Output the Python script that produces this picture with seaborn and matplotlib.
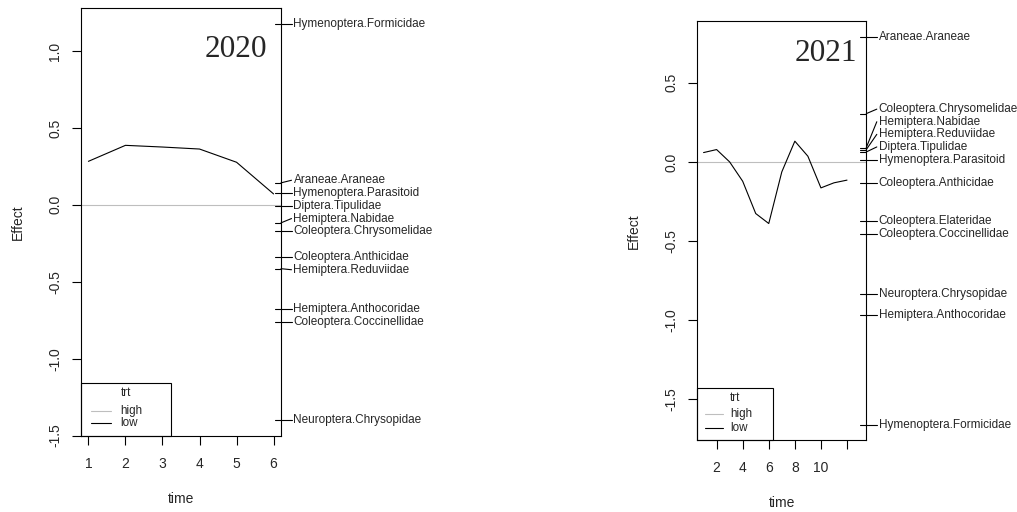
import matplotlib
matplotlib.use("Agg")
import matplotlib.pyplot as plt
import matplotlib.transforms as mtransforms
from matplotlib.patches import Rectangle
import numpy as np
import seaborn as sns

# PRC 2020: low treatment vs high (reference = 0)
time_2020 = [1, 2, 3, 4, 5, 6]
effect_2020 = [0.283, 0.387, 0.376, 0.363, 0.277, 0.071]
species_2020 = ['Hymenoptera.Formicidae', 'Araneae.Araneae', 'Hymenoptera.Parasitoid',
                'Diptera.Tipulidae', 'Hemiptera.Nabidae', 'Coleoptera.Chrysomelidae',
                'Coleoptera.Anthicidae', 'Hemiptera.Reduviidae', 'Hemiptera.Anthocoridae',
                'Coleoptera.Coccinellidae', 'Neuroptera.Chrysopidae']
scores_2020 = [1.177, 0.143, 0.078, -0.005, -0.117, -0.171, -0.34, -0.415, -0.68, -0.762, -1.40]

# PRC 2021
time_2021 = [1, 2, 3, 4, 5, 6, 7, 8, 9, 10, 11, 12]
effect_2021 = [0.059, 0.078, 0.0, -0.122, -0.326, -0.389, -0.063, 0.131, 0.036, -0.164, -0.132, -0.115]
species_2021 = ['Araneae.Araneae', 'Coleoptera.Chrysomelidae', 'Hemiptera.Nabidae',
                'Hemiptera.Reduviidae', 'Diptera.Tipulidae', 'Hymenoptera.Parasitoid',
                'Coleoptera.Anthicidae', 'Coleoptera.Elateridae', 'Coleoptera.Coccinellidae',
                'Neuroptera.Chrysopidae', 'Hemiptera.Anthocoridae', 'Hymenoptera.Formicidae']
scores_2021 = [0.79, 0.305, 0.091, 0.078, 0.063, 0.015, -0.13, -0.374, -0.456, -0.837, -0.965, -1.66]

trt_levels = ['high', 'low']
trt_colors = ['#BEBEBE', 'black']

sns.set_style("white")
plt.rcParams['font.family'] = ['Liberation Sans', 'DejaVu Sans']

fig = plt.figure(figsize=(10.17, 5.12), dpi=100)
W, H = 1017, 512


def linestack(scores, ht):
    # vegan-style label stacking, anchored on the middle item
    x = np.asarray(scores, dtype=float)
    o = np.argsort(x)
    xs = x[o]
    n = len(xs)
    pos = np.zeros(n)
    mid = (n + 1) // 2 - 1
    pos[mid] = xs[mid]
    for i in range(mid + 1, n):
        pos[i] = max(xs[i], pos[i - 1] + ht)
    for i in range(mid - 1, -1, -1):
        pos[i] = min(xs[i], pos[i + 1] - ht)
    out = np.empty(n)
    out[o] = pos
    return out


def prc_panel(rect_px, time, effect, species, scores, year, xlim, xticks, xticklabels,
              yticks, year_xy, leg):
    l, t, r, b = rect_px
    ax = fig.add_axes([l / W, (H - b) / H, (r - l) / W, (b - t) / H])
    wpx, hpx = r - l, b - t

    lo, hi = min(scores), max(scores)
    pad = 0.04 * (hi - lo)
    ax.set_ylim(lo - pad, hi + pad)
    ax.set_xlim(*xlim)

    ax.axhline(0, color=trt_colors[0], lw=0.8)
    sns.lineplot(x=time, y=effect, color=trt_colors[1], lw=0.8, ax=ax)

    ax.set_xticks(xticks)
    ax.set_xticklabels(xticklabels, fontsize=10)
    ax.set_yticks(yticks)
    ax.set_yticklabels([f"{v:.1f}" for v in yticks], rotation=90, va='center', fontsize=10)
    ax.tick_params(direction='out', length=6.5, width=0.8, color='black', bottom=True, left=True)
    ax.tick_params(axis='y', pad=7)
    ax.tick_params(axis='x', pad=8.5)
    for sp in ax.spines.values():
        sp.set_linewidth(0.8)
        sp.set_color('black')

    ax.set_xlabel('time', fontsize=10)
    ax.set_ylabel('Effect', fontsize=10)
    ax.xaxis.set_label_coords(0.5, -56 / hpx)
    ax.yaxis.set_label_coords(-56 / wpx, 0.5)

    ax.text(year_xy[0], year_xy[1], year, transform=ax.transAxes, ha='right', va='center',
            fontsize=22.5, family='Liberation Serif')

    # species scores: rug ticks + stacked labels on right side
    yr = ax.get_ylim()
    ht = 12.6 * (yr[1] - yr[0]) / hpx
    lab = linestack(scores, ht)
    tr = mtransforms.blended_transform_factory(ax.transAxes, ax.transData)
    for name, s, p in zip(species, scores, lab):
        ax.plot([1 - 6 / wpx, 1], [s, s], color='black', lw=0.8, transform=tr, clip_on=False)
        ax.plot([1, 1 + 10.5 / wpx], [s, p], color='black', lw=0.8, transform=tr, clip_on=False)
        ax.text(1 + 12.5 / wpx, p, name, transform=tr, ha='left', va='center', fontsize=8.5)

    # R-style legend box in bottom-left
    bw, bh, tx, ty, lx0, lx1, txx, yh, yl = leg
    ax.add_patch(Rectangle((0, 0), bw / wpx, bh / hpx, transform=ax.transAxes, fill=False,
                           edgecolor='black', lw=0.8, clip_on=False))
    ax.text(tx / wpx, ty / hpx, 'trt', transform=ax.transAxes, ha='center', va='center', fontsize=8.4)
    for lev, col, yy in zip(trt_levels, trt_colors, [yh, yl]):
        ax.plot([lx0 / wpx, lx1 / wpx], [yy / hpx, yy / hpx], color=col, lw=0.8,
                transform=ax.transAxes)
        ax.text(txx / wpx, yy / hpx, lev, transform=ax.transAxes, ha='left', va='center',
                fontsize=8.4)
    return ax


prc_panel((81, 8, 281, 436), time_2020, effect_2020, species_2020, scores_2020, '2020',
          (0.8, 6.2), [1, 2, 3, 4, 5, 6], ['1', '2', '3', '4', '5', '6'],
          [-1.5, -1.0, -0.5, 0.0, 0.5, 1.0], (0.9315, 0.902),
          (90, 52.7, 44.7, 43, 9.7, 29.7, 39.7, 25.3, 12.7))

prc_panel((697.3, 21.3, 866.3, 440.3), time_2021, effect_2021, species_2021, scores_2021, '2021',
          (0.52, 13.48), [2, 4, 6, 8, 10, 12], ['2', '4', '6', '8', '10', ''],
          [-1.5, -1.0, -0.5, 0.0, 0.5], (0.947, 0.924),
          (76, 52, 38, 42, 8, 25.7, 32.7, 26, 12.6))

fig.savefig('out.png', dpi=100)
